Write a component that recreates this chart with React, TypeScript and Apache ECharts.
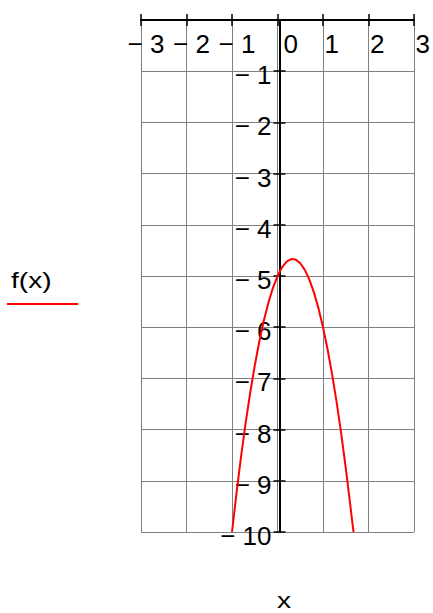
import React, { useEffect, useRef } from 'react';
import * as echarts from 'echarts';

// Sampled points of the traced function f(x)
const xValues = [
  -1.0, -0.9, -0.8, -0.7, -0.6, -0.5, -0.4, -0.3, -0.2, -0.1, 0.0,
  0.1, 0.2, 0.3, 0.4, 0.5, 0.6, 0.7, 0.8, 0.9, 1.0,
  1.1, 1.2, 1.3, 1.4, 1.5, 1.6, 1.67,
];
const fValues = [
  -10.0, -9.23, -8.52, -7.87, -7.28, -6.75, -6.28, -5.87, -5.52, -5.23, -5.0,
  -4.83, -4.72, -4.67, -4.68, -4.75, -4.88, -5.07, -5.32, -5.63, -6.0,
  -6.43, -6.92, -7.47, -8.08, -8.75, -9.48, -10.0,
];

// Axis ranges and tick step
const xDomain = [-3, 3];
const yDomain = [-10, 0];
const tickStep = 1;

const traceLabel = 'f(x)';
const argLabel = 'x';

const MINUS = '\u2212';
const FONT = '"Liberation Sans", Arial, sans-serif';
const RED = '#ff0000';
const GRID_GRAY = '#808080';

// Plot area in pixels
const PLOT_LEFT = 141;
const PLOT_RIGHT = 418;
const CHART_W = 433;
// The vertical axis sits on x = 0, so shift it right from the plot's left edge
const Y_AXIS_SHIFT =
  ((0 - xDomain[0]) / (xDomain[1] - xDomain[0])) * (PLOT_RIGHT - PLOT_LEFT);

const labelText = { fontFamily: FONT, fontSize: 26, color: '#000' };

function xTickLabel(v: number): string {
  if (v < 0) return `{n|${MINUS} ${-v}}`;
  if (v === 0) return `{z|0}`;
  return `{p|${v}}`;
}

function yTickLabel(v: number): string {
  if (v === 0) return '';
  return `{n|${MINUS} ${-v}}`;
}

export default function App() {
  const ref = useRef<HTMLDivElement>(null);

  useEffect(() => {
    document.body.style.margin = '0';
    if (!ref.current) return;
    const chart = echarts.init(ref.current, undefined, { renderer: 'svg' });

    const axisBlack = { color: '#000', width: 2 };
    const tickBlack = { color: '#000', width: 1.5 };

    const option = {
      animation: false,
      backgroundColor: '#fff',
      grid: {
        left: PLOT_LEFT,
        right: CHART_W - PLOT_RIGHT,
        top: 20,
        bottom: 81,
        containLabel: false,
      },
      xAxis: [
        {
          type: 'value',
          min: xDomain[0],
          max: xDomain[1],
          interval: tickStep,
          position: 'top',
          axisLine: { show: true, onZero: false, lineStyle: axisBlack },
          axisTick: { show: true, inside: false, length: 6, lineStyle: tickBlack },
          axisLabel: {
            show: true,
            inside: true,
            margin: 11,
            align: 'center',
            ...labelText,
            formatter: xTickLabel,
            rich: {
              n: { ...labelText, padding: [0, 0, 0, 10] },
              p: { ...labelText, padding: [0, 0, 0, 17.5] },
              z: { ...labelText, padding: [0, 0, 0, 26.5] },
            },
          },
          splitLine: { show: true, lineStyle: { color: GRID_GRAY, width: 1 } },
        },
        {
          type: 'value',
          min: xDomain[0],
          max: xDomain[1],
          interval: tickStep,
          position: 'top',
          axisLine: { show: false, onZero: false },
          axisTick: { show: true, inside: true, length: 6, lineStyle: tickBlack },
          axisLabel: { show: false },
          splitLine: { show: false },
        },
      ],
      yAxis: [
        {
          type: 'value',
          min: yDomain[0],
          max: yDomain[1],
          interval: tickStep,
          position: 'left',
          offset: -Y_AXIS_SHIFT,
          axisLine: { show: true, onZero: false, lineStyle: axisBlack },
          axisTick: { show: true, inside: false, length: 6, lineStyle: tickBlack },
          axisLabel: {
            show: true,
            margin: 8,
            ...labelText,
            formatter: yTickLabel,
            rich: { n: { ...labelText, padding: [8, 0, 0, 0] } },
          },
          splitLine: { show: true, lineStyle: { color: GRID_GRAY, width: 1 } },
        },
        {
          type: 'value',
          min: yDomain[0],
          max: yDomain[1],
          interval: tickStep,
          position: 'left',
          offset: -Y_AXIS_SHIFT,
          axisLine: { show: false, onZero: false },
          axisTick: { show: true, inside: true, length: 6, lineStyle: tickBlack },
          axisLabel: { show: false },
          splitLine: { show: false },
        },
      ],
      series: [
        {
          name: traceLabel,
          type: 'line',
          xAxisIndex: 0,
          yAxisIndex: 0,
          data: xValues.map((x, i) => [x, fValues[i]]),
          showSymbol: false,
          smooth: false,
          lineStyle: { color: RED, width: 2 },
          z: 5,
        },
      ],
      graphic: [
        {
          type: 'text',
          x: 11,
          y: 280,
          scaleX: 1.28,
          style: {
            text: traceLabel,
            font: `22px ${FONT}`,
            fill: '#000',
            textAlign: 'left',
            textVerticalAlign: 'middle',
          },
        },
        {
          type: 'line',
          shape: { x1: 7, y1: 304, x2: 78, y2: 304 },
          style: { stroke: RED, lineWidth: 2 },
        },
        {
          type: 'text',
          x: 284,
          y: 600,
          scaleX: 1.28,
          style: {
            text: argLabel,
            font: `22px ${FONT}`,
            fill: '#000',
            textAlign: 'center',
            textVerticalAlign: 'middle',
          },
        },
      ],
    };

    chart.setOption(option as any);
    return () => chart.dispose();
  }, []);

  return <div ref={ref} style={{ width: 433, height: 613 }} />;
}
